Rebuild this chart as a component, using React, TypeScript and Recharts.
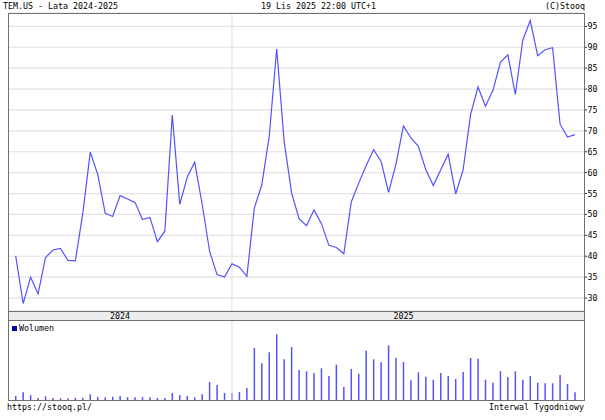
import React from 'react';
import {
  LineChart,
  Line,
  BarChart,
  Bar,
  XAxis,
  YAxis,
  CartesianGrid,
  ReferenceLine,
} from 'recharts';

const years = ['2024', '2025'];
const yearWeeks = [29, 47];

// weekly close, TEM.US
const prices = [
  40.1, 28.7, 35.0, 31.0, 39.7, 41.5, 41.9, 39.0, 38.9, 50.3,
  64.9, 59.6, 50.3, 49.5, 54.5, 53.7, 52.9, 48.8, 49.3, 43.5,
  46.0, 73.8, 52.4, 58.9, 62.5, 52.5, 41.2, 35.6, 35.0, 38.2,
  37.4, 35.2, 51.5, 57.1, 68.7, 89.6, 67.5, 55.1, 49.0, 47.3,
  51.1, 47.8, 42.6, 42.1, 40.6, 53.0, 57.5, 61.7, 65.5, 62.7,
  55.3, 62.1, 71.2, 68.3, 66.3, 60.7, 56.9, 60.7, 64.4, 54.9,
  60.7, 73.9, 80.5, 75.9, 79.7, 86.4, 88.2, 78.7, 91.7, 96.4,
  88.0, 89.4, 89.9, 71.6, 68.5, 69.1,
];

// weekly volume (relative units)
const volumes = [
  4.0, 7.7, 5.0, 2.0, 3.7, 2.0, 1.7, 1.7, 2.3, 2.3,
  5.7, 3.0, 2.7, 3.3, 4.0, 2.7, 2.7, 3.0, 2.7, 2.0,
  2.0, 7.0, 5.0, 4.0, 2.7, 5.7, 18.0, 15.0, 7.0, 7.0,
  8.0, 12.0, 52.0, 36.7, 47.7, 65.7, 40.7, 53.0, 30.0, 28.7,
  27.0, 31.7, 24.0, 35.3, 13.0, 31.0, 26.3, 49.3, 40.7, 37.7,
  54.7, 42.0, 38.0, 19.7, 27.7, 23.3, 20.3, 27.0, 24.0, 21.0,
  28.0, 42.0, 41.3, 20.3, 17.3, 28.7, 23.0, 28.7, 20.3, 24.0,
  17.3, 16.7, 16.7, 25.0, 16.0, 7.7,
];

const priceTicks = [30, 35, 40, 45, 50, 55, 60, 65, 70, 75, 80, 85, 90, 95];

const data = prices.map((p, i) => ({ i, p, v: volumes[i] }));

const X_DOMAIN: [number, number] = [-1.033, 76.21];
const PRICE_DOMAIN: [number, number] = [26.9, 98.2];
const VOL_DOMAIN: [number, number] = [0, 79];

const PLOT_L = 8;
const PLOT_R = 584;
const FONT = '"DejaVu Sans Mono", monospace';
const FS = 8.3;
const FRAME = '#707070';
const BLUE = '#5252ff';

const boundary = yearWeeks[0];
const xPx = (v: number) =>
  PLOT_L + ((v - X_DOMAIN[0]) / (X_DOMAIN[1] - X_DOMAIN[0])) * (PLOT_R - PLOT_L);

const blank = () => '';

export default function App() {
  let start = -0.5;
  const yearLabels = years.map((y, k) => {
    const a = Math.max(PLOT_L, xPx(start));
    const b = Math.min(PLOT_R, xPx(start + yearWeeks[k]));
    start += yearWeeks[k];
    return { y, c: (a + b) / 2 };
  });

  const txt: React.CSSProperties = {
    position: 'absolute',
    fontFamily: FONT,
    fontSize: FS,
    lineHeight: '10px',
    color: '#000',
    whiteSpace: 'pre',
  };

  return (
    <div
      style={{
        position: 'absolute',
        left: 0,
        top: 0,
        width: 605,
        height: 420,
        background: '#fff',
        overflow: 'hidden',
      }}
    >
      <div style={{ ...txt, left: 3, top: 1 }}>TEM.US - Lata 2024-2025</div>
      <div style={{ ...txt, left: 261, top: 1 }}>19 Lis 2025 22:00 UTC+1</div>
      <div style={{ ...txt, right: 20, top: 1 }}>(C)Stooq</div>

      <div style={{ position: 'absolute', left: 0, top: 0 }}>
        <LineChart
          width={605}
          height={312}
          data={data}
          margin={{ top: 13, right: 0, bottom: 1, left: PLOT_L }}
        >
          <XAxis
            dataKey="i"
            type="number"
            domain={X_DOMAIN}
            allowDataOverflow
            orientation="top"
            mirror
            height={0}
            ticks={[boundary]}
            tickSize={3}
            tickFormatter={blank}
            axisLine={false}
            tickLine={{ stroke: '#333' }}
          />
          <XAxis
            xAxisId="b"
            dataKey="i"
            type="number"
            domain={X_DOMAIN}
            allowDataOverflow
            orientation="bottom"
            mirror
            height={0}
            ticks={[boundary]}
            tickSize={3}
            tickFormatter={blank}
            axisLine={false}
            tickLine={{ stroke: '#333' }}
          />
          <YAxis
            yAxisId="r"
            orientation="right"
            width={21}
            domain={PRICE_DOMAIN}
            allowDataOverflow
            ticks={priceTicks}
            interval={0}
            tickSize={3}
            tickMargin={0.5}
            axisLine={false}
            tickLine={{ stroke: '#333' }}
            tick={{ fill: '#000', fontSize: FS, fontFamily: FONT }}
          />
          <YAxis
            yAxisId="l"
            orientation="left"
            mirror
            width={0}
            domain={PRICE_DOMAIN}
            allowDataOverflow
            ticks={priceTicks}
            interval={0}
            tickSize={3}
            tickFormatter={blank}
            axisLine={false}
            tickLine={{ stroke: '#555' }}
          />
          <CartesianGrid
            yAxisId="r"
            vertical={false}
            stroke="#e2e2e2"
            strokeWidth={1.2}
          />
          <ReferenceLine yAxisId="r" x={boundary} stroke="#dedede" />
          <Line
            yAxisId="r"
            dataKey="p"
            stroke={BLUE}
            strokeWidth={1.2}
            dot={false}
            isAnimationActive={false}
          />
        </LineChart>
      </div>

      <div style={{ position: 'absolute', left: 0, top: 320 }}>
        <BarChart
          width={605}
          height={81}
          data={data}
          margin={{ top: 1, right: 605 - PLOT_R, bottom: 1, left: PLOT_L }}
        >
          <XAxis
            dataKey="i"
            type="number"
            domain={X_DOMAIN}
            allowDataOverflow
            orientation="top"
            mirror
            height={0}
            ticks={[boundary]}
            tickSize={3}
            tickFormatter={blank}
            axisLine={false}
            tickLine={{ stroke: '#333' }}
          />
          <YAxis hide domain={VOL_DOMAIN} allowDataOverflow />
          <ReferenceLine x={boundary} stroke="#dedede" />
          <Bar dataKey="v" fill={BLUE} barSize={1.5} isAnimationActive={false} />
        </BarChart>
      </div>

      {/* panel frames */}
      <div
        style={{
          position: 'absolute',
          left: PLOT_L,
          top: 13,
          width: PLOT_R - PLOT_L + 1,
          height: 299,
          border: `1px solid ${FRAME}`,
          boxSizing: 'border-box',
        }}
      />
      <div
        style={{
          position: 'absolute',
          left: PLOT_L,
          top: 311,
          width: PLOT_R - PLOT_L + 1,
          height: 10,
          background: '#ececec',
          border: `1px solid ${FRAME}`,
          boxSizing: 'border-box',
        }}
      />
      <div
        style={{
          position: 'absolute',
          left: PLOT_L,
          top: 320,
          width: PLOT_R - PLOT_L + 1,
          height: 81,
          border: `1px solid ${FRAME}`,
          boxSizing: 'border-box',
        }}
      />
      {yearLabels.map((l) => (
        <div
          key={l.y}
          style={{ ...txt, left: l.c - 20, width: 40, textAlign: 'center', top: 311 }}
        >
          {l.y}
        </div>
      ))}

      <div
        style={{
          position: 'absolute',
          left: 12,
          top: 326,
          width: 5,
          height: 5,
          background: '#0000a8',
        }}
      />
      <div style={{ ...txt, left: 19, top: 323 }}>Wolumen</div>

      <div style={{ ...txt, left: 7, top: 402 }}>https://stooq.pl/</div>
      <div style={{ ...txt, right: 21, top: 402 }}>Interwal Tygodniowy</div>
    </div>
  );
}
